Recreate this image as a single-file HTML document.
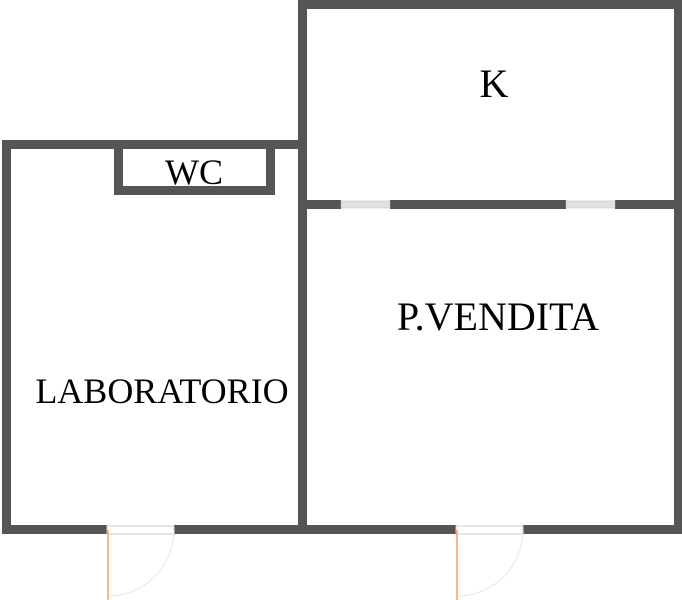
<!DOCTYPE html>
<html><head><style>
body{margin:0;width:682px;height:600px;background:#fff;overflow:hidden}
svg{display:block}
text{font-family:"Liberation Serif",serif;fill:#000}
</style></head><body>
<svg width="682" height="600" viewBox="0 0 682 600">
<g fill="#555">
<rect x="298" y="0" width="384" height="9"/>
<rect x="674" y="0" width="8" height="534"/>
<rect x="298" y="0" width="9" height="534"/>
<rect x="2" y="140" width="305" height="9"/>
<rect x="2" y="140" width="9" height="394"/>
<rect x="2" y="525" width="105" height="9"/>
<rect x="174" y="525" width="282" height="9"/>
<rect x="523" y="525" width="159" height="9"/>
<rect x="114" y="140" width="9" height="55"/>
<rect x="266" y="140" width="9" height="55"/>
<rect x="114" y="186" width="161" height="9"/>
<rect x="298" y="200" width="43" height="9"/>
<rect x="390" y="200" width="176" height="9"/>
<rect x="615" y="200" width="67" height="9"/>
</g>
<rect x="341" y="201" width="49" height="7" fill="#e2e2e2" stroke="#bbb" stroke-width="0.5"/>
<rect x="566" y="201" width="49" height="7" fill="#e2e2e2" stroke="#bbb" stroke-width="0.5"/>
<rect x="107" y="526" width="67" height="8" fill="#fff" stroke="#ccc" stroke-width="1"/>
<rect x="456" y="526" width="67" height="8" fill="#fff" stroke="#ccc" stroke-width="1"/>
<g fill="none">
<line x1="108" y1="530" x2="108" y2="600" stroke="#f5a060" stroke-width="1.5"/>
<path d="M174 530 A66 66 0 0 1 110 596" stroke="#fde0cc" stroke-width="1"/>
<line x1="457" y1="530" x2="457" y2="600" stroke="#f5a060" stroke-width="1.5"/>
<path d="M523 530 A66 66 0 0 1 459 596" stroke="#fde0cc" stroke-width="1"/>
</g>
<text x="494" y="97" font-size="40" text-anchor="middle">K</text>
<text x="194" y="184" font-size="36" text-anchor="middle">WC</text>
<text x="498" y="330" font-size="40" text-anchor="middle">P.VENDITA</text>
<text x="162" y="403" font-size="36" text-anchor="middle">LABORATORIO</text>
</svg>
</body></html>
